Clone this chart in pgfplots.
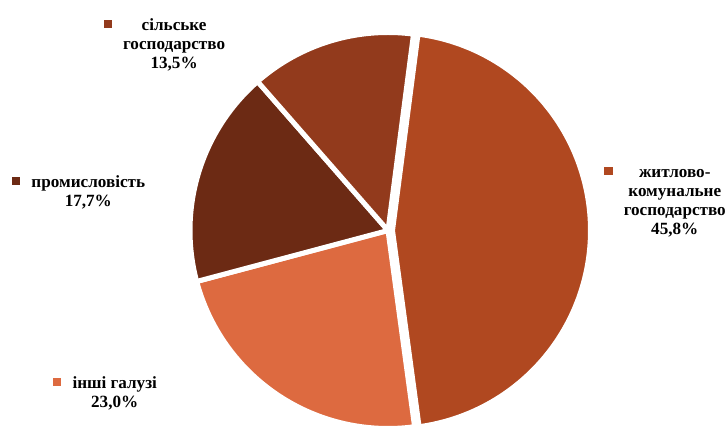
\documentclass[border=0pt]{standalone}
\usepackage{pgfplots}
\pgfplotsset{compat=1.18}
\usepackage{fontspec}
\setmainfont{Liberation Serif}
\definecolor{cZhk}{HTML}{B04820}
\definecolor{cInshi}{HTML}{DD6A40}
\definecolor{cProm}{HTML}{6C2A14}
\definecolor{cSilsk}{HTML}{923A1C}
% data (percent)
\def\vZhk{45.8}
\def\vInshi{23.0}
\def\vProm{17.7}
\def\vSilsk{13.5}
\newcommand\keybox[1]{\raisebox{2bp}{\textcolor{#1}{\rule{8.3bp}{8.3bp}}}}
\newcommand\lbl[2]{\begin{tabular}[t]{@{}l@{\hspace{11.3bp}}c@{}}\keybox{#1} & \begin{tabular}[t]{@{}c@{}}#2\end{tabular}\end{tabular}}
\begin{document}
\begin{tikzpicture}
\pgfmathsetmacro\aZ{82.6}
\pgfmathsetmacro\aI{\aZ-3.6*\vZhk}
\pgfmathsetmacro\aP{\aI-3.6*\vInshi}
\pgfmathsetmacro\aS{\aP-3.6*\vProm}
\pgfmathsetmacro\aE{\aS-3.6*\vSilsk}
\begin{axis}[width=728bp,height=426bp,scale only axis,
  xmin=0,xmax=728,ymin=0,ymax=426,hide axis,
  every axis plot/.append style={draw=white,line width=5bp,samples=120,variable=\t}]
\addplot[fill=cZhk,domain=\aI:\aZ] ({392.5+198*cos(\t)},{195.5+198*sin(\t)}) -- (axis cs:392.5,195.5) -- cycle;
\addplot[fill=cInshi,domain=\aP:\aI] ({388+198*cos(\t)},{195.5+198*sin(\t)}) -- (axis cs:388,195.5) -- cycle;
\addplot[fill=cProm,domain=\aS:\aP] ({388+198*cos(\t)},{195.5+198*sin(\t)}) -- (axis cs:388,195.5) -- cycle;
\addplot[fill=cSilsk,domain=\aE:\aS] ({388+198*cos(\t)},{195.5+198*sin(\t)}) -- (axis cs:388,195.5) -- cycle;
\coordinate (BL) at (rel axis cs:0,0);
\coordinate (TR) at (rel axis cs:1,1);
\begin{scope}[every node/.style={anchor=base west,inner sep=0pt,font=\bfseries\fontsize{17.2}{19}\selectfont}]
\node at (axis cs:103.3,395.5) {\lbl{cSilsk}{сільське\\господарство\\13,5\%}};
\node at (axis cs:11.7,238.8) {\lbl{cProm}{промисловість\\17,7\%}};
\node at (axis cs:52.7,37.8) {\lbl{cInshi}{інші галузі\\23,0\%}};
\node at (axis cs:604,248.5) {\lbl{cZhk}{житлово-\\комунальне\\господарство\\45,8\%}};
\end{scope}
\end{axis}
\pgfresetboundingbox
\useasboundingbox (BL) rectangle (TR);
\end{tikzpicture}
\end{document}
